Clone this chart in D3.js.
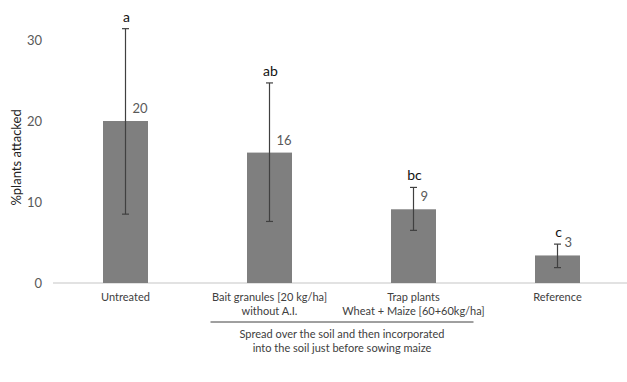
<!DOCTYPE html>
<html>
<head>
<meta charset="utf-8">
<script src="https://cdn.jsdelivr.net/npm/d3@7"></script>
<style>
  body { margin: 0; background: #fff; }
  text { font-family: Lato, "Open Sans", sans-serif; }
</style>
</head>
<body>
<div id="chart"></div>
<script>
// dane
const categories = ["Untreated", "Bait granules [20 kg/ha]\nwithout A.I.", "Trap plants\nWheat + Maize [60+60kg/ha]", "Reference"];
const values = [20.0, 16.1, 9.1, 3.4];
const valueLabels = ["20", "16", "9", "3"];
const errLow = [8.5, 7.6, 6.5, 1.9];
const errHigh = [31.4, 24.7, 11.8, 4.8];
const letters = ["a", "ab", "bc", "c"];
const yTicks = [0, 10, 20, 30];
const groupNote = ["Spread over the soil and then incorporated", "into the soil just before sowing maize"];
const groupSpan = [1, 2];

const width = 627, height = 382;
const svg = d3.select("#chart").append("svg")
    .attr("width", width).attr("height", height);

const x = d3.scaleBand().domain(categories).range([53.5, 629.5])
    .paddingInner(0.6875).paddingOuter(0.34375);
const y = d3.scaleLinear().domain([0, 30]).range([283, 40]);
const cx = d => x(d) + x.bandwidth() / 2;

// oś x
svg.append("line")
    .attr("x1", 53).attr("x2", 627)
    .attr("y1", y(0)).attr("y2", y(0))
    .attr("stroke", "#d9d9d9").attr("stroke-width", 1.3);

// etykiety osi y
const yAxis = d3.axisLeft(y).tickValues(yTicks).tickSize(0).tickPadding(0);
const gy = svg.append("g").attr("transform", "translate(42,0)").call(yAxis);
gy.select(".domain").remove();
gy.selectAll("text").attr("fill", "#595959").style("font-size", "13px");

svg.append("text")
    .attr("transform", `translate(21,${y(15.5)}) rotate(-90)`)
    .attr("text-anchor", "middle")
    .attr("fill", "#222").style("font-size", "13px")
    .text("%plants attacked");

// słupki
svg.selectAll(".bar").data(categories).enter().append("rect")
    .attr("class", "bar")
    .attr("x", d => x(d)).attr("width", x.bandwidth())
    .attr("y", (d, i) => y(values[i]))
    .attr("height", (d, i) => y(0) - y(values[i]))
    .attr("fill", "#7f7f7f");

// słupki błędów
const eg = svg.selectAll(".err").data(categories).enter().append("g").attr("class", "err")
    .attr("stroke", "#404040").attr("stroke-width", 1.2);
eg.append("line")
    .attr("x1", cx).attr("x2", cx)
    .attr("y1", (d, i) => y(errLow[i])).attr("y2", (d, i) => y(errHigh[i]));
eg.append("line")
    .attr("x1", d => cx(d) - 3.5).attr("x2", d => cx(d) + 3.5)
    .attr("y1", (d, i) => y(errLow[i])).attr("y2", (d, i) => y(errLow[i]));
eg.append("line")
    .attr("x1", d => cx(d) - 3.5).attr("x2", d => cx(d) + 3.5)
    .attr("y1", (d, i) => y(errHigh[i])).attr("y2", (d, i) => y(errHigh[i]));

// wartości
svg.selectAll(".val").data(categories).enter().append("text")
    .attr("x", d => cx(d) + 7)
    .attr("y", (d, i) => y(values[i]) - 8)
    .attr("fill", "#595959").style("font-size", "13px")
    .text((d, i) => valueLabels[i]);

// litery istotności
svg.selectAll(".let").data(categories).enter().append("text")
    .attr("x", d => cx(d) + 1)
    .attr("y", (d, i) => y(errHigh[i]) - 7)
    .attr("text-anchor", "middle")
    .attr("fill", "#111").style("font-size", "14px")
    .text((d, i) => letters[i]);

// etykiety kategorii
svg.selectAll(".cat").data(categories).enter().append("text")
    .attr("x", cx).attr("y", 301)
    .attr("text-anchor", "middle")
    .attr("fill", "#404040").style("font-size", "11px")
    .each(function(d) {
        d.split("\n").forEach((line, k) => {
            d3.select(this).append("tspan")
                .attr("x", cx(d)).attr("dy", k === 0 ? 0 : 13.5).text(line);
        });
    });

// grupa zabiegów
const gx1 = cx(categories[groupSpan[0]]) - 59, gx2 = cx(categories[groupSpan[1]]) + 60;
svg.append("line")
    .attr("x1", gx1).attr("x2", gx2).attr("y1", 322).attr("y2", 322)
    .attr("stroke", "#404040").attr("stroke-width", 1);
svg.selectAll(".note").data(groupNote).enter().append("text")
    .attr("x", (gx1 + gx2) / 2)
    .attr("y", (d, i) => 338 + i * 14)
    .attr("text-anchor", "middle")
    .attr("fill", "#404040").style("font-size", "11px")
    .text(d => d);
</script>
</body>
</html>
